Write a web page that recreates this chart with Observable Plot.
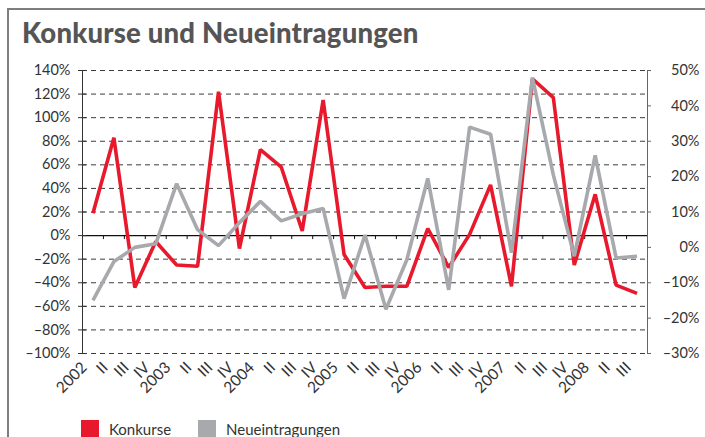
<!DOCTYPE html>
<html><head><meta charset="utf-8">
<script src="https://cdn.jsdelivr.net/npm/d3@7"></script>
<script src="https://cdn.jsdelivr.net/npm/@observablehq/plot@0.6"></script>
<style>
body{margin:0;background:#fff;font-family:Lato,"Noto Sans",sans-serif;}
#wrap{position:relative;width:705px;height:437px;overflow:hidden;}
#frame{position:absolute;left:7px;top:8px;width:720px;height:460px;border-left:2px solid #7d7d7d;border-top:2px solid #7d7d7d;}
#title{position:absolute;left:22px;top:16px;font-size:27.5px;font-weight:900;color:#555;letter-spacing:0.2px;}
#chart{position:absolute;left:0;top:0;}
#legend{position:absolute;left:81px;top:420px;display:flex;align-items:center;font-size:15px;color:#333;}
#legend .sw{width:18px;height:18px;display:inline-block;margin-right:10px;}
#legend .item{display:flex;align-items:center;margin-right:27px;}
</style>
</head><body>
<div id="wrap">
<div id="frame"></div>
<div id="title">Konkurse und Neueintragungen</div>
<div id="chart"></div>
<div id="legend"></div>
</div>
<script>
const quarters = ["2002","II","III","IV","2003","II","III","IV","2004","II","III","IV","2005","II","III","IV","2006","II","III","IV","2007","II","III","IV","2008","II","III"];
const konkurse = [19,83,-44,-5,-25,-26,122,-11,73,58,4,115,-16,-44,-43,-43,6,-27,1,43,-43,133,117,-25,35,-42,-49];
const neueintragungen = [-15,-4,0,1,18,5,0.5,7,13,7.5,9.5,11,-14.5,3.5,-17.5,-3.5,19.5,-12,34,32,-1.5,48,20.5,-2.5,26,-3,-2.5];
const leftTicks = [-100,-80,-60,-40,-20,0,20,40,60,80,100,120,140];
const rightTicks = [-30,-20,-10,0,10,20,30,40,50];
const seriesNames = ["Konkurse","Neueintragungen"];
const colors = ["#e8192c","#a7a9ac"];

const pct = v => (v < 0 ? "\u2013" + Math.abs(v) : String(v)) + "%";
const toLeft = r => 3 * r - 10; // right axis (-30..50) onto left axis (-100..140)
const n = quarters.length;

const redData = konkurse.map((v, i) => ({i, v}));
const grayData = neueintragungen.map((v, i) => ({i, v}));

const chart = Plot.plot({
  width: 705, height: 437,
  marginTop: 70, marginBottom: 84, marginLeft: 82, marginRight: 58,
  x: {domain: [0, n], axis: null},
  y: {domain: [-100, 140], axis: null},
  style: {fontFamily: "Lato, 'Noto Sans', sans-serif", fontSize: "14.5px", color: "#333", background: "transparent"},
  marks: [
    Plot.ruleY(leftTicks.filter(d => d !== 0), {stroke: "#3c3c3c", strokeDasharray: "5,4", strokeWidth: 1}),
    Plot.ruleY([0], {stroke: "#111", strokeWidth: 1.2}),
    Plot.ruleX(d3.range(n + 1), {x: d => d, y1: 0, y2: 0, insetBottom: -4, stroke: "#111"}),
    Plot.ruleX([0], {stroke: "#333"}),
    Plot.ruleX([n], {stroke: "#666"}),
    Plot.ruleY(leftTicks, {x1: 0, x2: 0, insetLeft: -4, insetRight: -4, stroke: "#333"}),
    Plot.ruleY(rightTicks.map(toLeft), {x1: n, x2: n, insetRight: -4, stroke: "#666"}),
    Plot.axisY(leftTicks, {anchor: "left", tickSize: 0, tickPadding: 12, letterSpacing: "0.4px", tickFormat: pct}),
    Plot.axisY(rightTicks.map(toLeft), {anchor: "right", tickSize: 0, tickPadding: 52, textAnchor: "end", tickFormat: d => pct((d + 10) / 3)}),
    Plot.line(redData, {x: d => d.i + 0.5, y: d => d.v, stroke: colors[0], strokeWidth: 3.6, strokeLinejoin: "miter", strokeLinecap: "butt"}),
    Plot.line(grayData, {x: d => d.i + 0.5, y: d => toLeft(d.v), stroke: colors[1], strokeWidth: 3.6, strokeLinejoin: "miter", strokeLinecap: "butt"}),
    Plot.text(quarters, {x: (d, i) => i + 0.5, text: d => d, frameAnchor: "bottom", rotate: -45, textAnchor: "end", dy: 15, dx: -5, fontSize: 15.5, fill: "#333"})
  ]
});
document.getElementById("chart").appendChild(chart);

const legend = document.getElementById("legend");
seriesNames.forEach((name, k) => {
  const item = document.createElement("div");
  item.className = "item";
  item.innerHTML = `<span class="sw" style="background:${colors[k]}"></span><span>${name}</span>`;
  legend.appendChild(item);
});
</script>
</body></html>
